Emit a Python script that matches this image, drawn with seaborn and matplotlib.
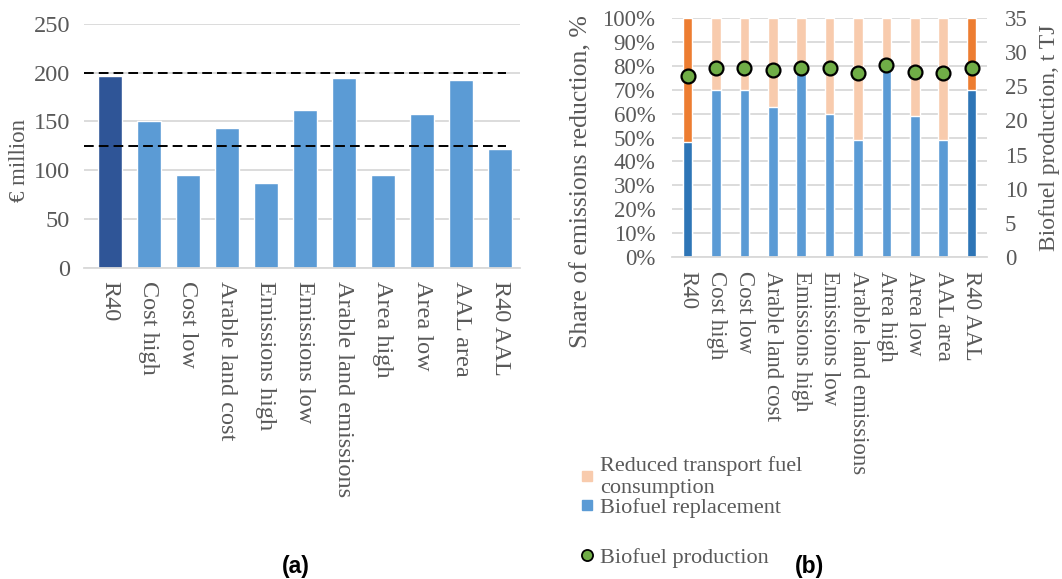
import matplotlib
matplotlib.use("Agg")
import matplotlib.pyplot as plt
from matplotlib.lines import Line2D
import seaborn as sns
import pandas as pd

# Scenario names shared by both panels
scenarios = ["R40", "Cost high", "Cost low", "Arable land cost", "Emissions high",
             "Emissions low", "Arable land emissions", "Area high", "Area low",
             "AAL area", "R40 AAL"]

# (a) total cost, € million
cost = [197, 150, 95, 143, 87, 162, 195, 95, 158, 193, 122]
cost_refs = [200, 125]

# (b) share of emissions reduction (%) and biofuel production (t TJ)
biofuel_replacement = [48, 70, 70, 63, 78, 60, 49, 79, 59, 49, 70]
reduced_consumption = [52, 30, 30, 37, 22, 40, 51, 21, 41, 51, 30]
biofuel_production = [26.6, 27.7, 27.7, 27.4, 27.7, 27.7, 26.9, 28.2, 27.1, 26.9, 27.7]

sns.set_theme(style="white")
plt.rcParams["font.family"] = ["Liberation Serif", "DejaVu Serif"]
TXT = "#595959"
GRID = "#D9D9D9"

df = pd.DataFrame({
    "scenario": scenarios,
    "cost": cost,
    "replacement": biofuel_replacement,
    "total": [r + c for r, c in zip(biofuel_replacement, reduced_consumption)],
    "production": biofuel_production,
})

W, H = 1062, 579
fig = plt.figure(figsize=(W / 100, H / 100), dpi=100)


def px_axes(x0, y0, x1, y1):
    return fig.add_axes([x0 / W, 1 - y1 / H, (x1 - x0) / W, (y1 - y0) / H])


def style_axes(ax, size):
    for s in ["top", "right", "left"]:
        ax.spines[s].set_visible(False)
    ax.spines["bottom"].set_color(GRID)
    ax.spines["bottom"].set_linewidth(1.3)
    ax.grid(axis="y", color=GRID, linewidth=1.3)
    ax.set_axisbelow(True)
    ax.tick_params(axis="both", length=0, colors=TXT, labelsize=size)
    ax.set_xlabel("")


# ---------- panel (a) ----------
x0a, x1a, y0a, y1a = 84, 520, 24, 267.5
ax1 = px_axes(x0a, y0a, x1a, y1a)
pal_a = {s: "#5B9BD5" for s in scenarios}
pal_a["R40"] = "#2F5597"
sns.barplot(data=df, x="scenario", y="cost", hue="scenario", palette=pal_a,
            width=0.62, legend=False, ax=ax1, saturation=1)
ax1.set_xlim(-0.66, 10.51)
for v in cost_refs:
    ax1.hlines(v, -0.66, 10.15, colors="black", linestyles=(0, (5, 2.6)), linewidth=1.4, zorder=5)
ax1.set_ylim(0, 250)
ax1.set_yticks(range(0, 251, 50))
style_axes(ax1, 17.5)
ax1.tick_params(axis="y", pad=10)
ax1.set_xticks(range(len(scenarios)))
ax1.set_xticklabels(scenarios, rotation=270, va="top", ha="center")
ax1.tick_params(axis="x", pad=10)
ax1.set_ylabel("€ million", color=TXT, fontsize=16.5)
ax1.yaxis.set_label_coords((30 - x0a) / (x1a - x0a), (y1a - 160) / (y1a - y0a))

# ---------- panel (b) ----------
x0b, x1b, y0b, y1b = 672, 987, 18.3, 256.7
ax2 = px_axes(x0b, y0b, x1b, y1b)
pal_top = {s: "#F8CBAD" for s in scenarios}
pal_bot = {s: "#5B9BD5" for s in scenarios}
for s in ["R40", "R40 AAL"]:
    pal_top[s] = "#ED7D31"
    pal_bot[s] = "#2E75B6"
sns.barplot(data=df, x="scenario", y="total", hue="scenario", palette=pal_top,
            width=0.34, legend=False, ax=ax2, saturation=1)
sns.barplot(data=df, x="scenario", y="replacement", hue="scenario", palette=pal_bot,
            width=0.34, legend=False, ax=ax2, saturation=1)
ax2.set_xlim(-0.55, 10.54)
ax2.set_ylim(0, 100)
ax2.set_yticks(range(0, 101, 10))
ax2.set_yticklabels([f"{v}%" for v in range(0, 101, 10)])
style_axes(ax2, 16.5)
ax2.tick_params(axis="y", pad=12)
ax2.set_xticks(range(len(scenarios)))
ax2.set_xticklabels(scenarios, rotation=270, va="top", ha="center")
ax2.tick_params(axis="x", pad=10)
ax2.set_ylabel("Share of emissions reduction, %", color=TXT, fontsize=18.5)
ax2.yaxis.set_label_coords((592 - x0b) / (x1b - x0b), (y1b - 182) / (y1b - y0b))

ax3 = ax2.twinx()
sns.stripplot(data=df, x="scenario", y="production", jitter=False, color="#70AD47",
              edgecolor="black", linewidth=1.6, size=10, ax=ax3, zorder=6)
ax3.set_ylim(0, 35)
ax3.set_yticks(range(0, 36, 5))
ax3.set_xlim(-0.55, 10.54)
for s in ax3.spines.values():
    s.set_visible(False)
ax3.tick_params(axis="y", length=0, colors=TXT, labelsize=16.5, pad=13)
ax3.set_ylabel("Biofuel production, t TJ", color=TXT, fontsize=17, labelpad=8)
ax3.set_xlabel("")
ax3.grid(False)

# legends
bar_handles = [
    Line2D([], [], marker="s", linestyle="none", markersize=7, color="#F8CBAD"),
    Line2D([], [], marker="s", linestyle="none", markersize=7, color="#5B9BD5"),
]
leg = fig.legend(bar_handles, ["Reduced transport fuel\nconsumption", "Biofuel replacement"],
                 loc="upper left", bbox_to_anchor=(580 / W, 1 - 456 / H), frameon=False,
                 fontsize=16, labelcolor=TXT, handlelength=0.6, handletextpad=0.3,
                 labelspacing=0.0, borderpad=0, borderaxespad=0)
dot_handle = [Line2D([], [], marker="o", linestyle="none", markersize=8,
                     markerfacecolor="#70AD47", markeredgecolor="black", markeredgewidth=1.3)]
fig.legend(dot_handle, ["Biofuel production"], loc="upper left",
           bbox_to_anchor=(580 / W, 1 - 547 / H), frameon=False, fontsize=16,
           labelcolor=TXT, handlelength=0.6, handletextpad=0.3, borderpad=0, borderaxespad=0)

fig.text(296 / W, 1 - 567 / H, "(a)", ha="center", va="center", fontsize=16.5,
         fontweight="bold", family="Liberation Sans", color="black")
fig.text(810 / W, 1 - 567 / H, "(b)", ha="center", va="center", fontsize=16.5,
         fontweight="bold", family="Liberation Sans", color="black")

fig.savefig("out.png", dpi=100)
